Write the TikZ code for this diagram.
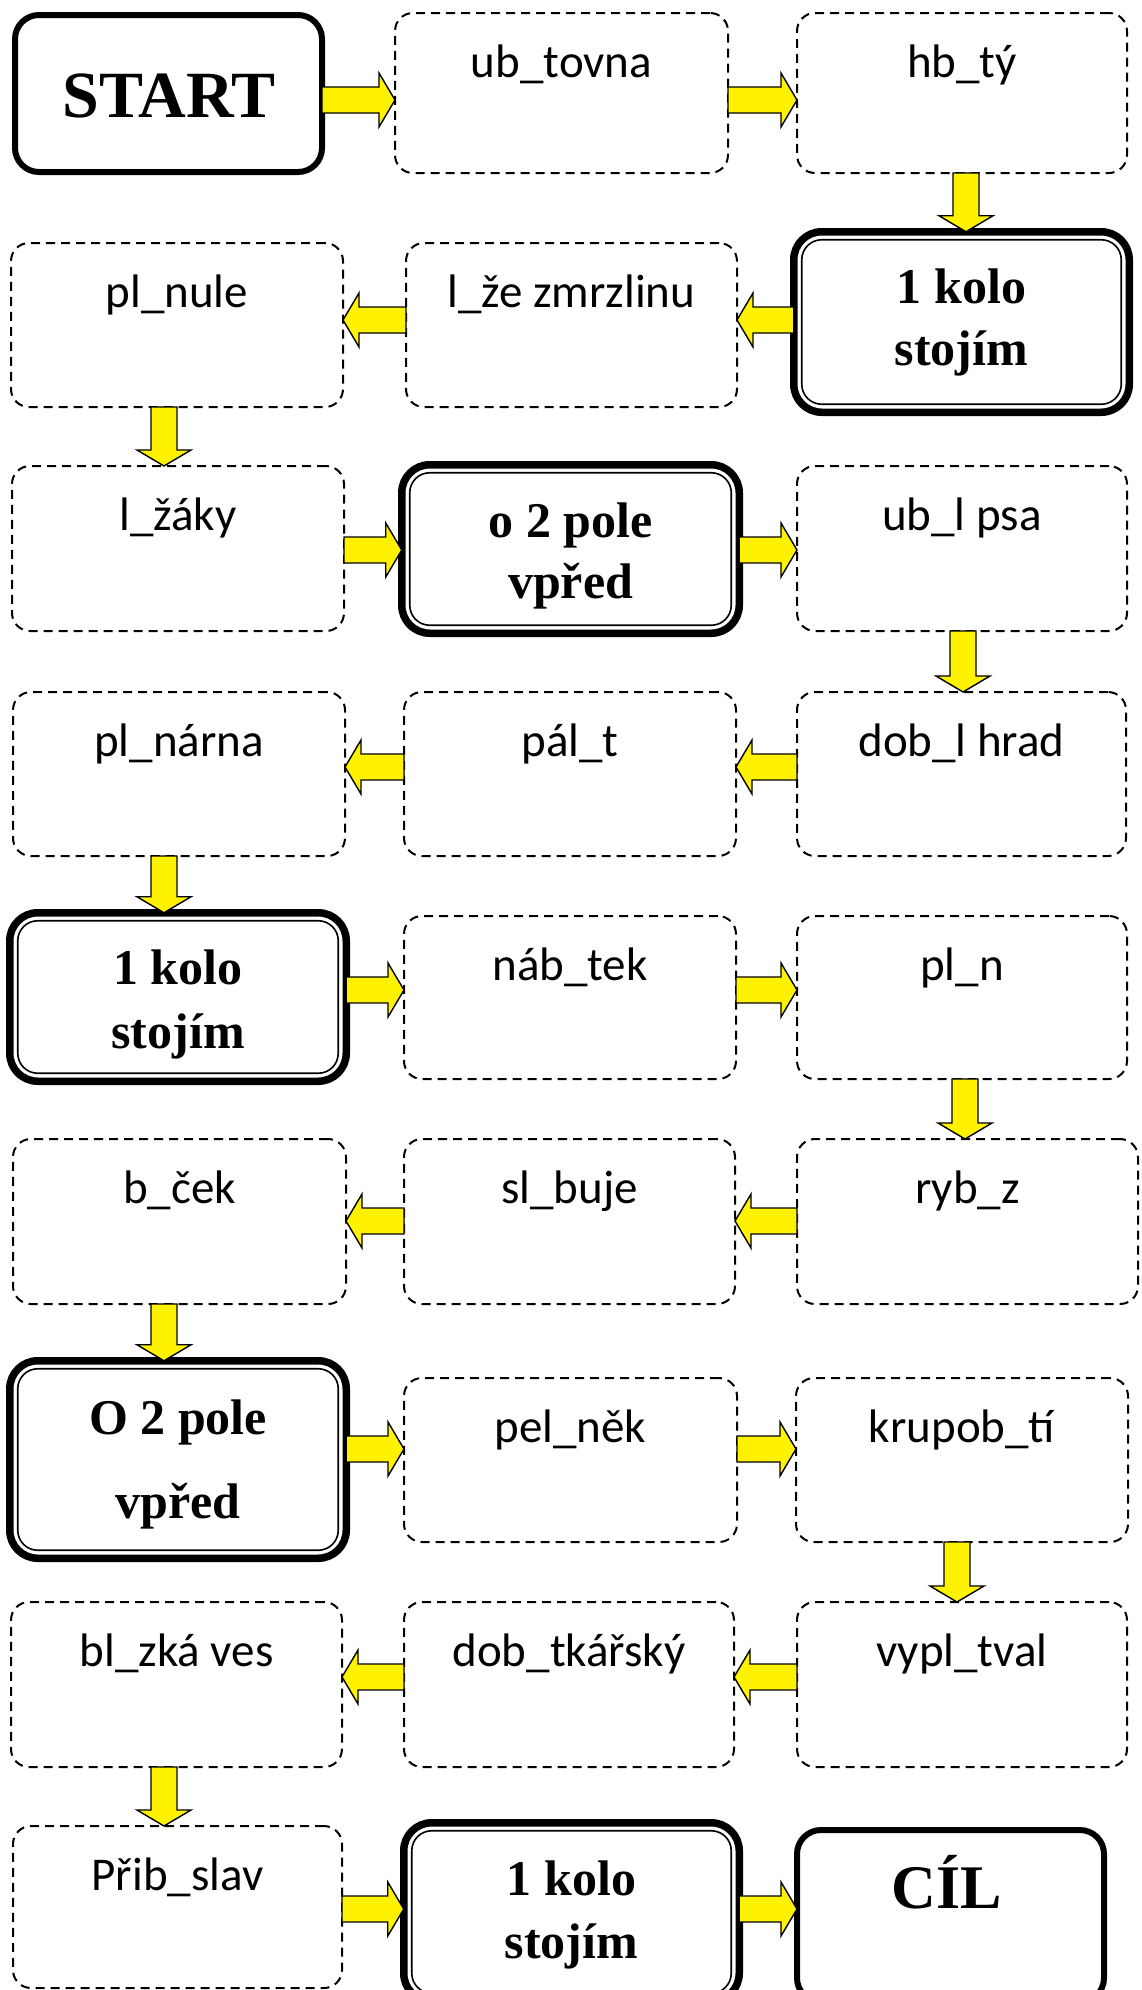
\documentclass[tikz,border=0pt]{standalone}
\usepackage{fontspec}
\setmainfont{Carlito}
\newfontfamily\bserif{Liberation Serif}
\usetikzlibrary{calc}
\tikzset{
  cell/.style={draw=black, line width=2pt, dash pattern=on 9pt off 6pt, rounded corners=18pt, rectangle, inner sep=0pt, outer sep=0pt},
  dblbox/.style={draw=black, line width=7.5pt, rounded corners=28pt, rectangle, inner sep=0pt, outer sep=0pt},
  solidbox/.style={draw=black, line width=6pt, rounded corners=24pt, rectangle, inner sep=0pt, outer sep=0pt},
  innerline/.style={draw=black, line width=1.6pt, rounded corners=20pt},
  lab/.style={anchor=base, inner sep=0pt, font=\fontsize{47}{56}\selectfont},
  blab/.style={anchor=base, inner sep=0pt, font=\bserif\bfseries\fontsize{50}{60}\selectfont},
  big/.style={anchor=base, inner sep=0pt, font=\bserif\bfseries\fontsize{66}{78}\selectfont},
  blk/.style={fill=yellow, draw=black, line width=1.4pt, line join=miter,
    to path={($(\tikztotarget)!16pt!(\tikztostart)$) coordinate (arrowheadbase)
      ($(\tikztostart)!13pt!90:(\tikztotarget)$) -- ($(arrowheadbase)!13pt!90:(\tikztotarget)$) -- ($(arrowheadbase)!27pt!90:(\tikztotarget)$) -- (\tikztotarget) -- ($(arrowheadbase)!27pt!-90:(\tikztotarget)$) -- ($(arrowheadbase)!13pt!-90:(\tikztotarget)$) -- ($(\tikztostart)!13pt!-90:(\tikztotarget)$) -- cycle}},
}
\begin{document}
\begin{tikzpicture}[x=1pt,y=-1pt]
\useasboundingbox (0,0) rectangle (1142,1990);
\clip (0,0) rectangle (1142,1990);
% row 1
\node[solidbox, minimum width=307pt, minimum height=157pt] (start) at (168.5,93.5) {};
\node[cell, minimum width=333pt, minimum height=160pt] (ub) at (561.5,93) {};
\node[cell, minimum width=330pt, minimum height=160pt] (hb) at (962,93) {};
% row 2
\node[cell, minimum width=332pt, minimum height=164pt] (plnule) at (177,325) {};
\node[cell, minimum width=331pt, minimum height=164pt] (lze) at (571.5,325) {};
\node[dblbox, minimum width=335.5pt, minimum height=180.5pt] (k1) at (961.5,322) {};
% row 3
\node[cell, minimum width=332pt, minimum height=165pt] (lzaky) at (178,548.5) {};
\node[dblbox, minimum width=337.5pt, minimum height=168.5pt] (o2a) at (570.5,549) {};
\node[cell, minimum width=330pt, minimum height=165pt] (ublpsa) at (962,548.5) {};
% row 4
\node[cell, minimum width=332pt, minimum height=164pt] (plnarna) at (179,774) {};
\node[cell, minimum width=332pt, minimum height=164pt] (palt) at (570,774) {};
\node[cell, minimum width=329pt, minimum height=164pt] (dobl) at (961.5,774) {};
% row 5
\node[dblbox, minimum width=336.5pt, minimum height=168.5pt] (k2) at (178,997) {};
\node[cell, minimum width=332pt, minimum height=163pt] (nabtek) at (570,997.5) {};
\node[cell, minimum width=330pt, minimum height=163pt] (pln) at (962,997.5) {};
% row 6
\node[cell, minimum width=333pt, minimum height=165pt] (bcek) at (179.5,1221.5) {};
\node[cell, minimum width=331pt, minimum height=165pt] (slbuje) at (569.5,1221.5) {};
\node[cell, minimum width=341pt, minimum height=165pt] (rybz) at (967.5,1221.5) {};
% row 7
\node[dblbox, minimum width=336.5pt, minimum height=197.5pt] (o2b) at (178,1459.5) {};
\node[cell, minimum width=333pt, minimum height=164pt] (pelnek) at (570.5,1460) {};
\node[cell, minimum width=332pt, minimum height=164pt] (krupob) at (962,1460) {};
% row 8
\node[cell, minimum width=331pt, minimum height=165pt] (blzka) at (176.5,1684.5) {};
\node[cell, minimum width=330pt, minimum height=165pt] (dobtk) at (569,1684.5) {};
\node[cell, minimum width=330pt, minimum height=165pt] (vypl) at (962,1684.5) {};
% row 9
\node[cell, minimum width=329pt, minimum height=162pt] (prib) at (177.5,1907) {};
\node[dblbox, minimum width=335.5pt, minimum height=178.5pt] (k3) at (571.5,1912) {};
\node[solidbox, minimum width=307pt, minimum height=172pt] (cil) at (950.5,1916) {};
% inner lines of the double boxes
\foreach \b in {k1,o2a,k2,o2b,k3}
  \draw[innerline] ([shift={(8,8)}]\b.north west) rectangle ([shift={(-8,-8)}]\b.south east);
% texts
\node[big] (tstart) at (169,117) {START};
\node[lab] (tub) at (561.5,77) {ub\_tovna};
\node[lab] (thb) at (962,77) {hb\_tý};
\node[lab] (tplnule) at (177,307) {pl\_nule};
\node[lab] (tlze) at (571.5,307) {l\_že zmrzlinu};
\node[blab] (tk1a) at (961.5,303) {1 kolo};
\node[blab] (tk1b) at (961.5,365) {stojím};
\node[lab] (tlzaky) at (178,530) {l\_žáky};
\node[blab] (to2aa) at (570.5,537) {o 2 pole};
\node[blab] (to2ab) at (570.5,598) {vpřed};
\node[lab] (tublpsa) at (962,530) {ub\_l psa};
\node[lab] (tplnarna) at (179,756) {pl\_nárna};
\node[lab] (tpalt) at (570,756) {pál\_t};
\node[lab] (tdobl) at (961.5,756) {dob\_l hrad};
\node[blab] (tk2a) at (178,984) {1 kolo};
\node[blab] (tk2b) at (178,1048) {stojím};
\node[lab] (tnabtek) at (570,980) {náb\_tek};
\node[lab] (tpln) at (962,980) {pl\_n};
\node[lab] (tbcek) at (179.5,1203) {b\_ček};
\node[lab] (tslbuje) at (569.5,1203) {sl\_buje};
\node[lab] (trybz) at (967.5,1203) {ryb\_z};
\node[blab] (to2ba) at (178,1434) {O 2 pole};
\node[blab] (to2bb) at (178,1518) {vpřed};
\node[lab] (tpelnek) at (570.5,1442) {pel\_něk};
\node[lab] (tkrupob) at (962,1442) {krupob\_tí};
\node[lab] (tblzka) at (176.5,1666) {bl\_zká ves};
\node[lab] (tdobtk) at (569,1666) {dob\_tkářský};
\node[lab] (tvypl) at (962,1666) {vypl\_tval};
\node[lab] (tprib) at (177.5,1890) {Přib\_slav};
\node[blab] (tk3a) at (571.5,1895) {1 kolo};
\node[blab] (tk3b) at (571.5,1958) {stojím};
\node[big, font=\bserif\bfseries\fontsize{62}{74}\selectfont] (tcil) at (946.5,1908) {CÍL};
% arrows
\draw[blk] (start.east |- 0,100) to (ub.west |- 0,100);
\draw[blk] (ub.east |- 0,100) to (hb.west |- 0,100);
\draw[blk] (hb.south -| 966,0) to (k1.north -| 966,0);
\draw[blk] (k1.west |- 0,320) to (lze.east |- 0,320);
\draw[blk] (lze.west |- 0,320) to (plnule.east |- 0,320);
\draw[blk] (plnule.south -| 164,0) to (lzaky.north -| 164,0);
\draw[blk] (lzaky.east |- 0,550) to (o2a.west |- 0,550);
\draw[blk] (o2a.east |- 0,550) to (ublpsa.west |- 0,550);
\draw[blk] (ublpsa.south -| 963,0) to (dobl.north -| 963,0);
\draw[blk] (dobl.west |- 0,767) to (palt.east |- 0,767);
\draw[blk] (palt.west |- 0,767) to (plnarna.east |- 0,767);
\draw[blk] (plnarna.south -| 164,0) to (k2.north -| 164,0);
\draw[blk] (k2.east |- 0,990) to (nabtek.west |- 0,990);
\draw[blk] (nabtek.east |- 0,990) to (pln.west |- 0,990);
\draw[blk] (pln.south -| 965,0) to (rybz.north -| 965,0);
\draw[blk] (rybz.west |- 0,1221) to (slbuje.east |- 0,1221);
\draw[blk] (slbuje.west |- 0,1221) to (bcek.east |- 0,1221);
\draw[blk] (bcek.south -| 164,0) to (o2b.north -| 164,0);
\draw[blk] (o2b.east |- 0,1449) to (pelnek.west |- 0,1449);
\draw[blk] (pelnek.east |- 0,1449) to (krupob.west |- 0,1449);
\draw[blk] (krupob.south -| 957,0) to (vypl.north -| 957,0);
\draw[blk] (vypl.west |- 0,1677) to (dobtk.east |- 0,1677);
\draw[blk] (dobtk.west |- 0,1677) to (blzka.east |- 0,1677);
\draw[blk] (blzka.south -| 164,0) to (prib.north -| 164,0);
\draw[blk] (prib.east |- 0,1909) to (k3.west |- 0,1909);
\draw[blk] (k3.east |- 0,1909) to (cil.west |- 0,1909);
\end{tikzpicture}
\end{document}
